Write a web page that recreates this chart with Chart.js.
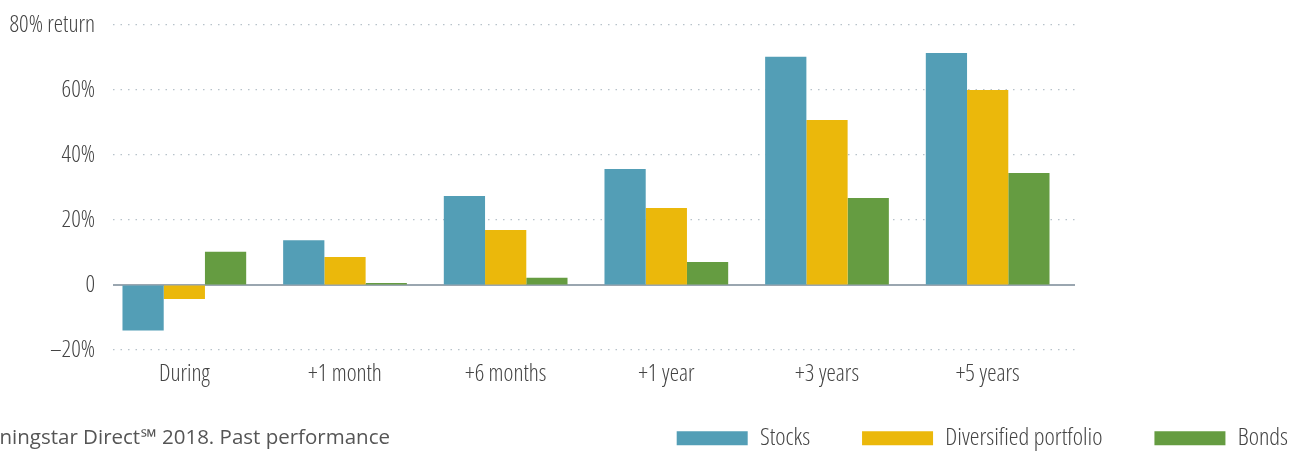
<!DOCTYPE html>
<html>
<head>
<meta charset="utf-8">
<script src="https://cdn.jsdelivr.net/npm/chart.js@4/dist/chart.umd.min.js"></script>
<style>
  html, body { margin: 0; padding: 0; background: #fff; }
  #wrap { width: 1306px; height: 454px; }
</style>
</head>
<body>
<div id="wrap"><canvas id="returnsChart"></canvas></div>
<script>
// data
const periods = ["During", "+1 month", "+6 months", "+1 year", "+3 years", "+5 years"];
const stocks = [-14, 13.8, 27.4, 35.7, 70.2, 71.4];
const diversified = [-4.3, 8.6, 16.9, 23.7, 50.8, 60];
const bonds = [10.2, 0.6, 2.2, 7.1, 26.8, 34.5];
const yTicks = [-20, 0, 20, 40, 60, 80];
const yTickLabels = ["\u201320%", "0", "20%", "40%", "60%", "80% return"];

// narrow light text (weight string also carries the font-stretch keyword)
const labelFont = { family: "'Open Sans', sans-serif", size: 23.5, weight: "300 condensed" };
const legendFont = { family: "'Open Sans', sans-serif", size: 24.5, weight: "300 condensed" };

// solid zero line + source note
const extras = {
  id: "extras",
  beforeDatasetsDraw(chart) {
    const ctx = chart.ctx;
    const y = chart.scales.y.getPixelForValue(0);
    ctx.save();
    ctx.strokeStyle = "#9aa6b0";
    ctx.lineWidth = 2;
    ctx.beginPath();
    ctx.moveTo(chart.chartArea.left, y);
    ctx.lineTo(chart.chartArea.right, y);
    ctx.stroke();
    ctx.restore();
  },
  afterDraw(chart) {
    const ctx = chart.ctx;
    ctx.save();
    ctx.font = "20.5px 'Open Sans', sans-serif";
    ctx.fillStyle = "#555";
    ctx.textAlign = "right";
    ctx.textBaseline = "middle";
    ctx.fillText("Source: Morningstar Direct\u2120 2018. Past performance", 390, 438);
    ctx.restore();
  }
};

// fixed legend height, legend moved to the bottom-right corner,
// plot top pinned, and the category band sits a little left of the grid
const layoutTweaks = {
  id: "layoutTweaks",
  beforeLayout(chart) {
    const lg = chart.legend;
    if (lg && !lg._fitPatched) {
      const orig = lg.fit;
      lg.fit = function () { orig.call(this); this.height = 63; };
      lg._fitPatched = true;
    }
  },
  afterLayout(chart) {
    const lg = chart.legend;
    if (lg) {
      lg.left += 34; lg.right += 34;
      lg.top -= 17; lg.height += 17;
    }
    const area = chart.chartArea;
    area.top = 25;
    area.height = area.bottom - area.top;
    const y = chart.scales.y;
    y.top = 25;
    y.height = y.bottom - y.top;
    y.configure();
    const x = chart.scales.x;
    x.left -= 9;
    x.right -= 7;
    x.width = x.right - x.left;
    x.configure();
  }
};

const ctx = document.getElementById("returnsChart").getContext("2d");
new Chart(ctx, {
  type: "bar",
  data: {
    labels: periods,
    datasets: [
      { label: "Stocks", data: stocks, backgroundColor: "#539eb6" },
      { label: "Diversified portfolio", data: diversified, backgroundColor: "#ebb80b" },
      { label: "Bonds", data: bonds, backgroundColor: "#659c41" },
    ],
  },
  options: {
    responsive: true,
    maintainAspectRatio: false,
    animation: false,
    layout: {
      autoPadding: false,
      padding: { top: 18, left: 0, right: 0, bottom: 0 },
    },
    datasets: {
      bar: { categoryPercentage: 0.77, barPercentage: 1 },
    },
    plugins: {
      tooltip: { enabled: false },
      legend: {
        position: "bottom",
        align: "end",
        labels: {
          boxWidth: 71,
          boxHeight: 14,
          padding: 52,
          color: "#444",
          font: legendFont,
        },
      },
    },
    scales: {
      x: {
        grid: { display: false },
        border: { display: false },
        ticks: {
          color: "#444",
          padding: 2,
          font: labelFont,
        },
        afterFit(scale) { scale.height = 41; },
      },
      y: {
        min: -20,
        max: 80,
        afterBuildTicks(scale) {
          scale.ticks = yTicks.map(v => ({ value: v }));
        },
        ticks: {
          color: "#444",
          padding: 18,
          font: labelFont,
          callback: (v) => yTickLabels[yTicks.indexOf(v)],
        },
        grid: {
          drawTicks: false,
          color: (c) => (c.tick && c.tick.value === 0 ? "rgba(0,0,0,0)" : "#b7c2ca"),
          lineWidth: 1.2,
        },
        border: { display: false, dash: [1.5, 6] },
        afterFit(scale) { scale.width = 113; },
      },
      yr: {
        position: "right",
        display: true,
        grid: { display: false },
        border: { display: false },
        ticks: { display: false },
        afterFit(scale) { scale.width = 231; },
      },
    },
  },
  plugins: [extras, layoutTweaks],
});
</script>
</body>
</html>
